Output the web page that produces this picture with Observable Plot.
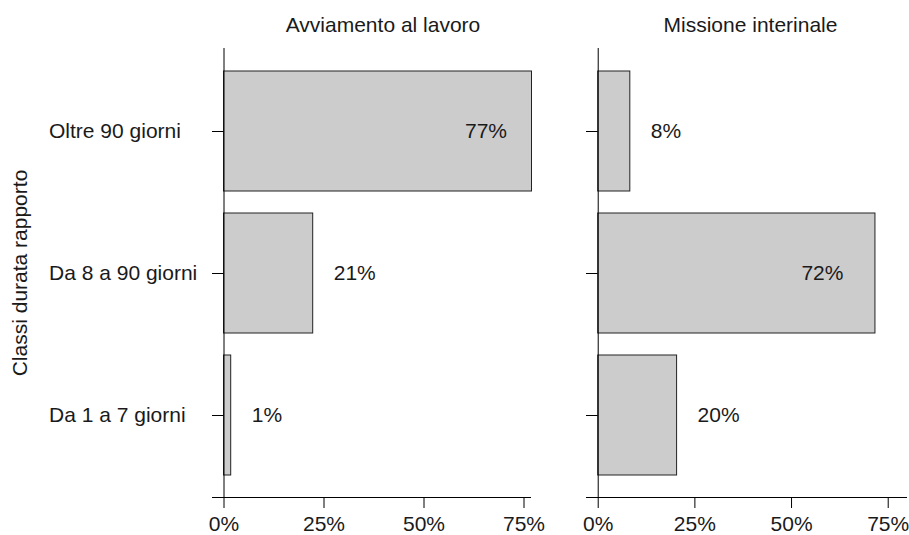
<!DOCTYPE html>
<html>
<head>
<meta charset="utf-8">
<script src="https://cdn.jsdelivr.net/npm/d3@7"></script>
<script src="https://cdn.jsdelivr.net/npm/@observablehq/plot@0.6"></script>
<style>
  html, body { margin: 0; padding: 0; background: #fff; }
  #chart { position: relative; width: 909px; height: 535px; overflow: hidden; }
  #chart svg { position: absolute; top: 0; display: block; }
</style>
</head>
<body>
<div id="chart"></div>
<script>
const categories = ["Oltre 90 giorni", "Da 8 a 90 giorni", "Da 1 a 7 giorni"];
const panelTitles = ["Avviamento al lavoro", "Missione interinale"];
const yLabel = "Classi durata rapporto";
const avviamentoValues = [0.77, 0.223, 0.018];
const avviamentoLabels = ["77%", "21%", "1%"];
const missioneValues = [0.083, 0.717, 0.204];
const missioneLabels = ["8%", "72%", "20%"];
const xTicks = [0, 0.25, 0.5, 0.75];
const xTickLabels = ["0%", "25%", "50%", "75%"];

const FONT = "'Liberation Sans', Arial, Helvetica, sans-serif";
const INK = "#1a1a1a";

function rows(values, labels) {
  return categories.map((c, i) => ({cat: c, value: values[i], label: labels[i]}));
}

function panel({title, data, width, left, marginLeft, marginRight, domain, titleDx, insideDx, showY}) {
  const marks = [
    Plot.barX(data, {x: "value", y: "cat", fill: "#cccccc", stroke: "#222", strokeWidth: 1}),
    Plot.ruleX([0], {stroke: "#000", strokeWidth: 1}),
    Plot.ruleY(categories, {y: d => d, x1: domain[0], x2: 0, stroke: "#000", strokeWidth: 1}),
    Plot.frame({anchor: "bottom", stroke: "#000", strokeWidth: 1}),
    Plot.axisX(xTicks, {tickSize: 11, tickPadding: 7.5, fontSize: 21, label: null,
      tickFormat: d => xTickLabels[xTicks.indexOf(d)], stroke: "#000", fill: INK}),
    Plot.text(data.filter(d => d.value > 0.5), {x: "value", y: "cat", text: "label",
      textAnchor: "end", dx: insideDx, fontSize: 21, fill: INK, lineAnchor: "middle"}),
    Plot.text(data.filter(d => d.value <= 0.5), {x: "value", y: "cat", text: "label",
      textAnchor: "start", dx: 20.5, fontSize: 21, fill: INK, lineAnchor: "middle"}),
    Plot.text([title], {text: d => d, frameAnchor: "top", dx: titleDx, dy: -23,
      textAnchor: "middle", lineAnchor: "middle", fontSize: 21, fill: INK})
  ];
  if (showY) {
    marks.push(
      Plot.text(categories, {y: d => d, text: d => d, frameAnchor: "left", dx: -163.5,
        textAnchor: "start", lineAnchor: "middle", fontSize: 21, fill: INK}),
      Plot.text([yLabel], {text: d => d, frameAnchor: "left", dx: -192.5, rotate: -90,
        textAnchor: "middle", lineAnchor: "middle", fontSize: 21, fill: INK})
    );
  }
  const svg = Plot.plot({
    width, height: 535,
    marginTop: 48, marginBottom: 38, marginLeft, marginRight,
    style: {fontFamily: FONT, fontSize: "21px", color: INK, background: "transparent", overflow: "visible"},
    x: {domain, label: null},
    y: {domain: categories, padding: 0.155, axis: null, label: null},
    marks
  });
  svg.style.left = left + "px";
  return svg;
}

const chart = document.getElementById("chart");
chart.appendChild(panel({
  title: panelTitles[0], data: rows(avviamentoValues, avviamentoLabels),
  width: 560, left: 0, marginLeft: 212, marginRight: 30,
  domain: [-0.02875, 0.76625], titleDx: 11.5, insideDx: -25, showY: true
}));
chart.appendChild(panel({
  title: panelTitles[1], data: rows(missioneValues, missioneLabels),
  width: 349, left: 560, marginLeft: 26, marginRight: 3,
  domain: [-0.0303, 0.7973], titleDx: 4, insideDx: -32, showY: false
}));
</script>
</body>
</html>
